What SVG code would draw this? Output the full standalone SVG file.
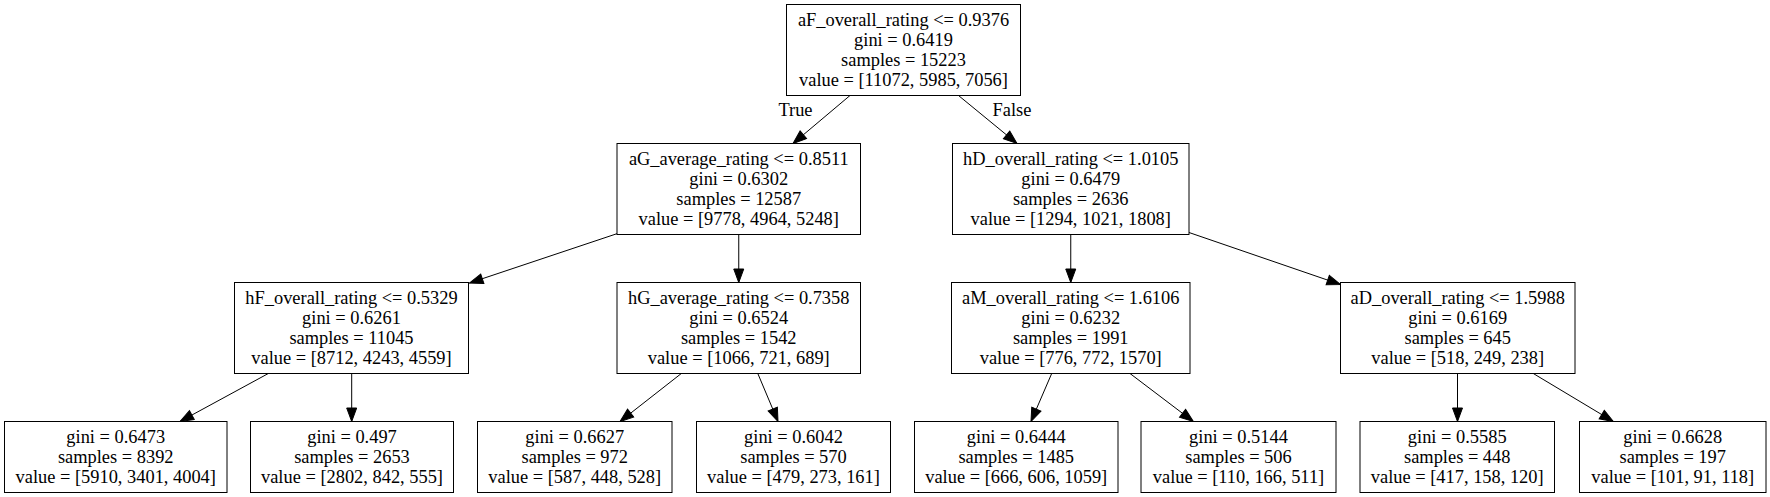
<svg xmlns="http://www.w3.org/2000/svg" width="1770" height="497" viewBox="0 0 1770 497">
<defs>
<style>
.nd rect{fill:#fff;stroke:#000;stroke-width:1}
text{font-family:"Liberation Serif","Times New Roman",serif;font-size:18.4px;text-anchor:middle;fill:#000}
.ed line{stroke:#000;stroke-width:1;fill:none;marker-end:url(#arr)}
</style>
<marker id="arr" markerUnits="userSpaceOnUse" markerWidth="16" markerHeight="12" viewBox="-1 -6 16 12" refX="13.5" refY="0" orient="auto">
<path d="M0,-5 L13.5,0 L0,5 Z" fill="#000" stroke="#000" stroke-width="1"/>
</marker>
</defs>
<rect width="1770" height="497" fill="#fff"/>
<g id="edges" class="ed">
<line x1="850" y1="95.5" x2="793" y2="143.5"/>
<line x1="958.5" y1="95.5" x2="1017" y2="143.5"/>
<line x1="617.5" y1="233.5" x2="469.5" y2="283"/>
<line x1="738.75" y1="234.5" x2="738.75" y2="282.5"/>
<line x1="1070.75" y1="234.5" x2="1070.75" y2="282.5"/>
<line x1="1189" y1="232.5" x2="1340.5" y2="284.5"/>
<line x1="268.3" y1="373.5" x2="180" y2="421.5"/>
<line x1="351.7" y1="373.5" x2="351.7" y2="421.5"/>
<line x1="681.3" y1="373.5" x2="620" y2="421.5"/>
<line x1="757.8" y1="373.5" x2="778" y2="421.5"/>
<line x1="1051.7" y1="373.5" x2="1031" y2="421.5"/>
<line x1="1130" y1="373.5" x2="1193.3" y2="421.5"/>
<line x1="1457.5" y1="373.5" x2="1457.5" y2="421.5"/>
<line x1="1533.3" y1="373.5" x2="1613.3" y2="421.5"/>
<text x="795.5" y="116">True</text>
<text x="1012" y="116">False</text>
</g>
<g id="n0" class="nd"><rect x="786.5" y="4.5" width="234" height="91"/>
<text x="903.5" y="26">aF_overall_rating &lt;= 0.9376</text><text x="903.5" y="46">gini = 0.6419</text><text x="903.5" y="66">samples = 15223</text><text x="903.5" y="86">value = [11072, 5985, 7056]</text></g>
<g id="n1" class="nd"><rect x="617" y="143.5" width="243.5" height="91"/>
<text x="738.75" y="165">aG_average_rating &lt;= 0.8511</text><text x="738.75" y="185">gini = 0.6302</text><text x="738.75" y="205">samples = 12587</text><text x="738.75" y="225">value = [9778, 4964, 5248]</text></g>
<g id="n8" class="nd"><rect x="952.5" y="143.5" width="236.5" height="91"/>
<text x="1070.75" y="165">hD_overall_rating &lt;= 1.0105</text><text x="1070.75" y="185">gini = 0.6479</text><text x="1070.75" y="205">samples = 2636</text><text x="1070.75" y="225">value = [1294, 1021, 1808]</text></g>
<g id="n2" class="nd"><rect x="234.5" y="282.5" width="234" height="91"/>
<text x="351.5" y="304">hF_overall_rating &lt;= 0.5329</text><text x="351.5" y="324">gini = 0.6261</text><text x="351.5" y="344">samples = 11045</text><text x="351.5" y="364">value = [8712, 4243, 4559]</text></g>
<g id="n5" class="nd"><rect x="617" y="282.5" width="243.5" height="91"/>
<text x="738.75" y="304">hG_average_rating &lt;= 0.7358</text><text x="738.75" y="324">gini = 0.6524</text><text x="738.75" y="344">samples = 1542</text><text x="738.75" y="364">value = [1066, 721, 689]</text></g>
<g id="n9" class="nd"><rect x="951.5" y="282.5" width="238.5" height="91"/>
<text x="1070.75" y="304">aM_overall_rating &lt;= 1.6106</text><text x="1070.75" y="324">gini = 0.6232</text><text x="1070.75" y="344">samples = 1991</text><text x="1070.75" y="364">value = [776, 772, 1570]</text></g>
<g id="n12" class="nd"><rect x="1340.5" y="282.5" width="234.5" height="91"/>
<text x="1457.75" y="304">aD_overall_rating &lt;= 1.5988</text><text x="1457.75" y="324">gini = 0.6169</text><text x="1457.75" y="344">samples = 645</text><text x="1457.75" y="364">value = [518, 249, 238]</text></g>
<g id="n3" class="nd"><rect x="4.5" y="421.5" width="222.5" height="71"/>
<text x="115.75" y="443">gini = 0.6473</text><text x="115.75" y="463">samples = 8392</text><text x="115.75" y="483">value = [5910, 3401, 4004]</text></g>
<g id="n4" class="nd"><rect x="250.5" y="421.5" width="203" height="71"/>
<text x="352" y="443">gini = 0.497</text><text x="352" y="463">samples = 2653</text><text x="352" y="483">value = [2802, 842, 555]</text></g>
<g id="n6" class="nd"><rect x="477.5" y="421.5" width="194.5" height="71"/>
<text x="574.75" y="443">gini = 0.6627</text><text x="574.75" y="463">samples = 972</text><text x="574.75" y="483">value = [587, 448, 528]</text></g>
<g id="n7" class="nd"><rect x="696.5" y="421.5" width="194" height="71"/>
<text x="793.5" y="443">gini = 0.6042</text><text x="793.5" y="463">samples = 570</text><text x="793.5" y="483">value = [479, 273, 161]</text></g>
<g id="n10" class="nd"><rect x="914.5" y="421.5" width="203.5" height="71"/>
<text x="1016.25" y="443">gini = 0.6444</text><text x="1016.25" y="463">samples = 1485</text><text x="1016.25" y="483">value = [666, 606, 1059]</text></g>
<g id="n11" class="nd"><rect x="1141" y="421.5" width="195" height="71"/>
<text x="1238.5" y="443">gini = 0.5144</text><text x="1238.5" y="463">samples = 506</text><text x="1238.5" y="483">value = [110, 166, 511]</text></g>
<g id="n13" class="nd"><rect x="1360" y="421.5" width="194.5" height="71"/>
<text x="1457.25" y="443">gini = 0.5585</text><text x="1457.25" y="463">samples = 448</text><text x="1457.25" y="483">value = [417, 158, 120]</text></g>
<g id="n14" class="nd"><rect x="1579.5" y="421.5" width="186.5" height="71"/>
<text x="1672.75" y="443">gini = 0.6628</text><text x="1672.75" y="463">samples = 197</text><text x="1672.75" y="483">value = [101, 91, 118]</text></g>
</svg>
